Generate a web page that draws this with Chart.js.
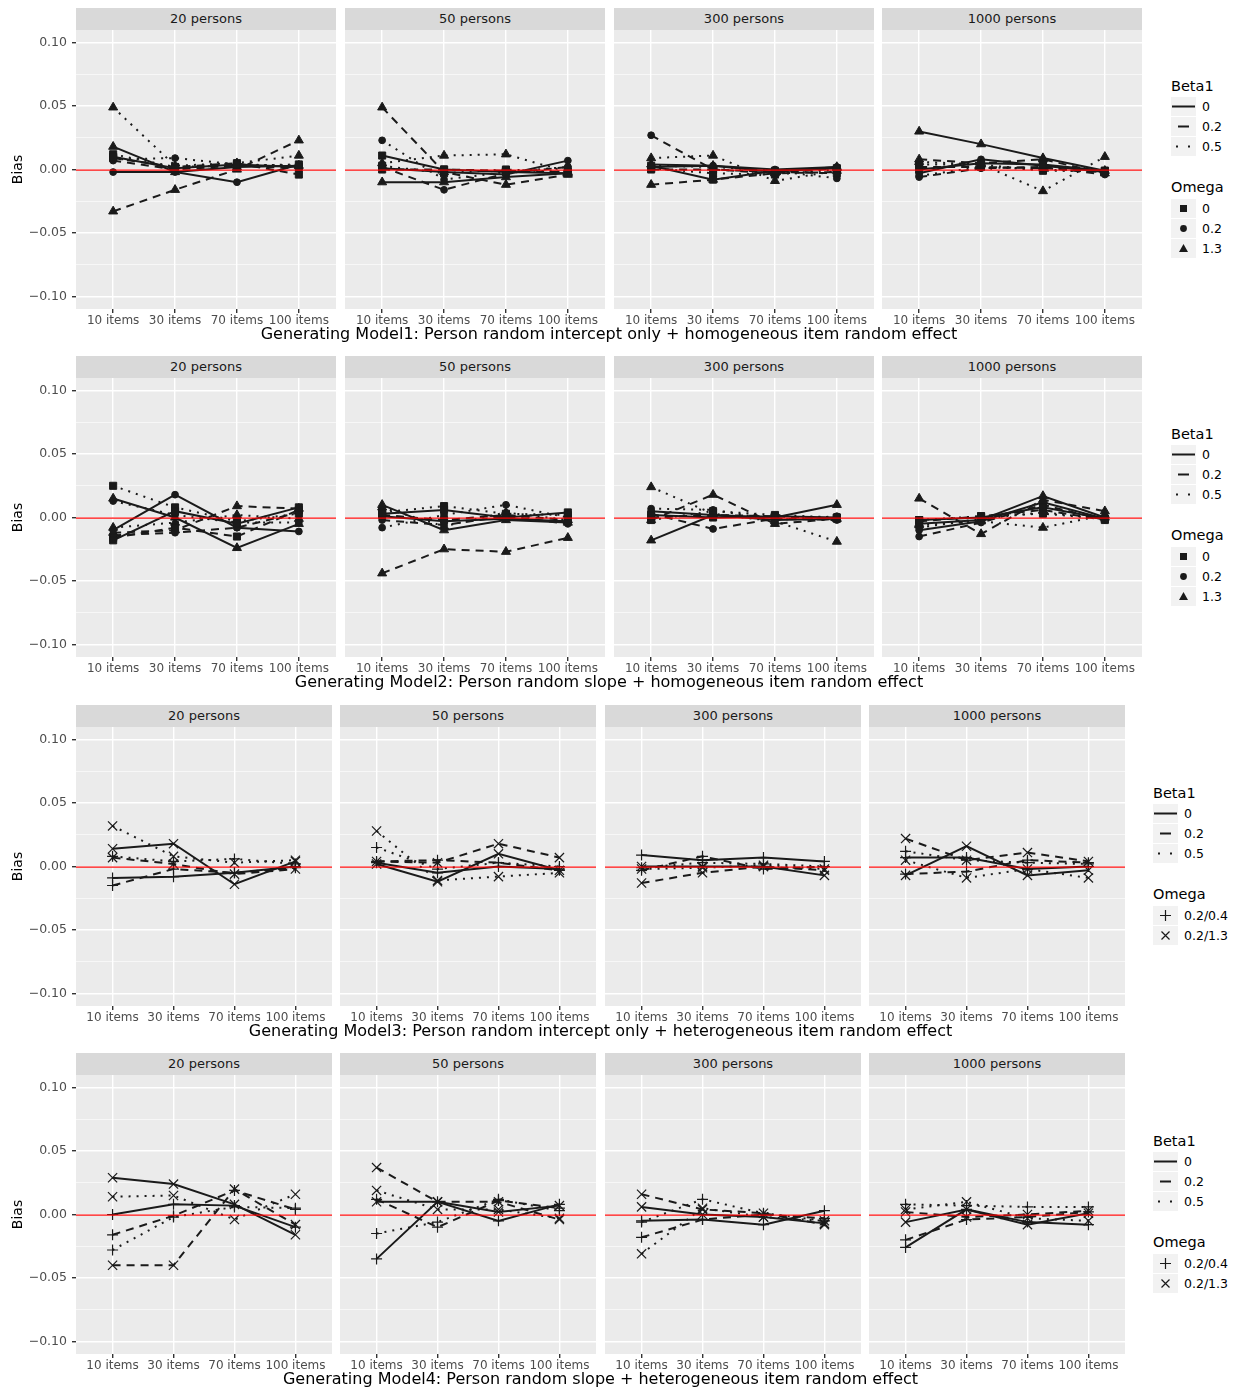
<!DOCTYPE html>
<html>
<head>
<meta charset="utf-8">
<script src="https://cdn.jsdelivr.net/npm/chart.js@4.4.0/dist/chart.umd.min.js"></script>
<style>
  body { margin: 0; background: #fff; width: 1248px; height: 1391px; position: relative; overflow: hidden;
         font-family: "DejaVu Sans", sans-serif; }
  .strip { position: absolute; background: #d9d9d9; color: #1a1a1a; font-size: 13px; text-align: center;
           height: 22px; line-height: 22px; }
  canvas { position: absolute; }
  .title { position: absolute; font-size: 16px; color: #000; transform: translateX(-50%); white-space: nowrap;
           line-height: 18px; }
  .lgTitle { position: absolute; font-size: 14.5px; color: #000; line-height: 18px; }
  .lgLabel { position: absolute; font-size: 12.5px; color: #000; line-height: 19px; }
  .lgKey { position: absolute; }
</style>
</head>
<body>
<script>
// categories / labels
const items = ['10 items', '30 items', '70 items', '100 items'];
const persons = ['20 persons', '50 persons', '300 persons', '1000 persons'];
const beta1 = ['0', '0.2', '0.5'];
const omegaA = ['0', '0.2', '1.3'];
const omegaB = ['0.2/0.4', '0.2/1.3'];
const yMajor = [-0.1, -0.05, 0, 0.05, 0.1];
const yMajorLabels = ['\u22120.10', '\u22120.05', '0.00', '0.05', '0.10'];
const yMinor = [-0.075, -0.025, 0.025, 0.075];
const refValue = 0;
const modelTitles = [
  'Generating Model1: Person random intercept only + homogeneous item random effect',
  'Generating Model2: Person random slope + homogeneous item random effect',
  'Generating Model3: Person random intercept only + heterogeneous item random effect',
  'Generating Model4: Person random slope + heterogeneous item random effect'
];

// bias values, rows ordered Beta1 (0, 0.2, 0.5) x Omega
// models 1-2: Omega 0 / 0.2 / 1.3
const m1p20 = [
  [0.010, 0.001, 0.004, 0.002], [-0.002, -0.002, -0.010, 0.004], [0.018, -0.002, 0.002, 0.003],
  [0.009, 0.002, 0.005, -0.004], [0.007, 0.000, 0.003, 0.001], [-0.033, -0.016, 0.000, 0.023],
  [0.012, 0.002, 0.003, 0.004], [0.008, 0.009, 0.004, 0.003], [0.049, 0.003, 0.005, 0.011]
];
const m1p50 = [
  [0.011, 0.000, -0.002, -0.003], [0.001, -0.002, -0.004, 0.007], [-0.010, -0.010, -0.006, -0.003],
  [0.000, 0.000, -0.001, -0.002], [0.002, -0.016, -0.003, 0.002], [0.049, -0.002, -0.012, -0.004],
  [0.003, -0.003, 0.000, -0.002], [0.023, -0.008, -0.002, 0.002], [0.005, 0.011, 0.012, -0.002]
];
const m1p300 = [
  [0.003, -0.008, -0.001, 0.001], [0.002, 0.003, 0.000, 0.002], [0.004, 0.003, -0.002, 0.002],
  [0.000, 0.000, -0.002, -0.003], [0.027, 0.000, -0.003, -0.002], [-0.012, -0.008, -0.003, 0.001],
  [0.001, -0.003, -0.004, 0.000], [0.003, 0.002, -0.001, -0.007], [0.009, 0.011, -0.009, -0.001]
];
const m1p1000 = [
  [0.000, 0.005, 0.004, -0.001], [-0.003, 0.008, 0.003, -0.002], [0.030, 0.020, 0.009, -0.001],
  [0.002, 0.002, 0.001, -0.002], [-0.006, 0.001, 0.002, -0.004], [0.008, 0.005, 0.008, -0.003],
  [0.004, 0.004, -0.001, -0.001], [-0.005, 0.002, 0.000, -0.002], [0.006, 0.004, -0.017, 0.010]
];
const m2p20 = [
  [-0.018, 0.005, -0.005, 0.008], [-0.010, 0.018, -0.008, -0.011], [0.015, 0.000, -0.024, -0.005],
  [-0.016, -0.008, -0.015, 0.006], [-0.014, -0.012, -0.008, 0.004], [-0.012, -0.010, 0.009, 0.007],
  [0.025, 0.008, -0.003, 0.003], [0.013, 0.002, -0.004, -0.004], [-0.008, -0.004, 0.002, -0.001]
];
const m2p50 = [
  [0.003, 0.006, 0.000, 0.004], [0.001, -0.003, -0.001, -0.003], [0.010, -0.010, -0.002, -0.004],
  [0.002, -0.002, 0.002, -0.002], [-0.002, -0.006, 0.001, -0.005], [-0.044, -0.025, -0.027, -0.016],
  [0.004, 0.009, 0.003, 0.002], [-0.008, 0.002, 0.010, 0.000], [0.008, -0.007, 0.004, -0.002]
];
const m2p300 = [
  [0.002, 0.000, 0.001, 0.000], [0.005, 0.002, -0.002, -0.001], [-0.018, 0.002, 0.000, 0.010],
  [0.000, 0.002, 0.001, -0.001], [0.003, -0.009, -0.001, -0.002], [-0.002, 0.018, -0.005, -0.001],
  [-0.002, 0.005, 0.002, 0.000], [0.007, 0.006, -0.002, 0.001], [0.024, 0.003, -0.003, -0.019]
];
const m2p1000 = [
  [-0.002, 0.000, 0.008, -0.001], [-0.010, -0.003, 0.012, -0.001], [-0.005, -0.002, 0.017, 0.000],
  [-0.003, 0.001, 0.006, -0.002], [-0.015, -0.004, 0.010, -0.002], [0.015, -0.013, 0.014, 0.005],
  [-0.002, 0.001, 0.003, -0.001], [-0.008, -0.001, 0.004, -0.001], [-0.006, -0.003, -0.008, 0.002]
];
// models 3-4: Omega 0.2/0.4 / 0.2/1.3
const m3p20 = [
  [-0.009, -0.008, -0.005, 0.000], [0.014, 0.018, -0.014, 0.004],
  [-0.015, -0.002, -0.005, -0.001], [0.007, 0.002, -0.006, -0.002],
  [0.008, 0.004, 0.006, 0.002], [0.032, 0.008, 0.003, 0.005]
];
const m3p50 = [
  [0.003, -0.005, 0.000, -0.002], [0.002, -0.012, 0.010, -0.003],
  [0.004, 0.005, 0.003, -0.003], [0.004, 0.003, 0.018, 0.007],
  [0.015, -0.002, 0.003, 0.000], [0.028, -0.011, -0.008, -0.005]
];
const m3p300 = [
  [0.009, 0.005, 0.007, 0.004], [0.000, 0.000, 0.000, -0.007],
  [-0.003, 0.008, -0.002, 0.000], [-0.013, -0.005, 0.000, -0.003],
  [-0.001, 0.003, 0.002, 0.000], [-0.002, -0.001, 0.001, -0.002]
];
const m3p1000 = [
  [0.007, 0.007, -0.002, 0.000], [-0.007, 0.016, -0.007, -0.003],
  [-0.006, -0.004, 0.005, 0.003], [0.022, 0.005, 0.011, 0.004],
  [0.012, 0.005, 0.003, 0.002], [0.005, -0.009, -0.002, -0.009]
];
const m4p20 = [
  [0.000, 0.008, 0.007, -0.010], [0.029, 0.024, 0.008, -0.016],
  [-0.016, -0.001, 0.019, 0.004], [-0.040, -0.040, 0.020, -0.008],
  [-0.028, -0.002, 0.006, 0.005], [0.014, 0.015, -0.004, 0.016]
];
const m4p50 = [
  [-0.035, 0.010, -0.005, 0.008], [0.010, 0.010, 0.002, 0.007],
  [0.012, -0.010, 0.011, 0.005], [0.037, 0.010, 0.010, -0.004],
  [-0.015, -0.006, 0.012, 0.003], [0.019, 0.004, 0.004, -0.003]
];
const m4p300 = [
  [-0.005, -0.004, -0.008, 0.003], [0.006, 0.000, -0.002, -0.007],
  [-0.018, -0.004, 0.000, -0.003], [0.016, 0.004, 0.001, -0.008],
  [-0.006, 0.012, 0.001, -0.005], [-0.031, 0.005, -0.002, -0.005]
];
const m4p1000 = [
  [-0.026, 0.004, -0.006, -0.008], [-0.006, 0.004, -0.008, 0.001],
  [-0.020, -0.004, -0.002, 0.002], [0.002, -0.002, 0.000, 0.003],
  [0.008, 0.007, 0.006, 0.006], [0.004, 0.010, -0.003, -0.005]
];

const models = [
  [m1p20, m1p50, m1p300, m1p1000],
  [m2p20, m2p50, m2p300, m2p1000],
  [m3p20, m3p50, m3p300, m3p1000],
  [m4p20, m4p50, m4p300, m4p1000]
];

// layout
const ink = '#1a1a1a';
const font = '"DejaVu Sans", sans-serif';
const rowTops = [30, 378, 727, 1075];
const plotH = 279;
const xAxisH = 20;
const colLefts = [[76, 345, 614, 882], [76, 345, 614, 882], [76, 340, 605, 869], [76, 340, 605, 869]];
const colWidths = [260, 260, 256, 256];
const legendX = [1171, 1171, 1153, 1153];
const legendDy = [56, 56, 66, 66];

const dashes = [[], [8, 6], [2, 6]];
const shapesA = [
  { style: 'rect', r: 5, bw: 1 },
  { style: 'circle', r: 3.4, bw: 1 },
  { style: 'triangle', r: 5.2, bw: 1 }
];
const shapesB = [
  { style: 'cross', r: 5.5, bw: 1.2 },
  { style: 'crossRot', r: 6.5, bw: 1.2 }
];

const panelBg = {
  id: 'panelBg',
  beforeDraw(chart) {
    const { ctx, chartArea: a } = chart;
    ctx.save();
    ctx.fillStyle = '#ebebeb';
    ctx.fillRect(a.left, a.top, a.width, a.height);
    ctx.restore();
  }
};

// red reference line at Bias = 0, placed with the y scale
const zeroLine = {
  id: 'zeroLine',
  afterDraw(chart) {
    const { ctx, chartArea: a, scales } = chart;
    const y = Math.round(scales.y.getPixelForValue(refValue));
    ctx.save();
    ctx.globalAlpha = 1;
    ctx.globalCompositeOperation = 'source-over';
    ctx.setLineDash([]);
    ctx.fillStyle = 'rgb(255,0,0)';
    ctx.fillRect(a.left, y - 0.5, a.width, 1.2);
    ctx.restore();
  }
};

const isMajor = v => yMajor.some(m => Math.abs(m - v) < 1e-9);

function makePanel(row, col) {
  const rows = models[row][col];
  const shapes = row < 2 ? shapesA : shapesB;
  const first = col === 0;
  const left = first ? 0 : colLefts[row][col];
  const width = first ? colLefts[row][0] + colWidths[row] : colWidths[row];

  const strip = document.createElement('div');
  strip.className = 'strip';
  strip.style.left = colLefts[row][col] + 'px';
  strip.style.top = (rowTops[row] - 22) + 'px';
  strip.style.width = colWidths[row] + 'px';
  strip.textContent = persons[col];
  document.body.appendChild(strip);

  const canvas = document.createElement('canvas');
  canvas.width = width;
  canvas.height = plotH + xAxisH;
  canvas.style.left = left + 'px';
  canvas.style.top = rowTops[row] + 'px';
  document.body.appendChild(canvas);

  const datasets = rows.map((vals, i) => {
    const b = Math.floor(i / shapes.length);
    const s = shapes[i % shapes.length];
    return {
      data: vals.map((v, j) => ({ x: j + 1, y: v })),
      borderColor: ink,
      backgroundColor: ink,
      borderWidth: 2,
      borderDash: dashes[b],
      pointStyle: s.style,
      pointRadius: s.r,
      pointBorderWidth: s.bw,
      pointBackgroundColor: ink,
      pointBorderColor: ink,
      tension: 0
    };
  });

  new Chart(canvas.getContext('2d'), {
    type: 'line',
    data: { datasets },
    plugins: [panelBg, zeroLine],
    options: {
      responsive: false,
      animation: false,
      events: [],
      layout: { padding: 0, autoPadding: false },
      plugins: { legend: { display: false }, tooltip: { enabled: false } },
      scales: {
        x: {
          type: 'linear',
          min: 0.4,
          max: 4.6,
          afterBuildTicks: s => { s.ticks = items.map((_, i) => ({ value: i + 1 })); },
          afterFit: s => { s.height = xAxisH; s.paddingLeft = 0; s.paddingRight = 0; },
          border: { display: false },
          grid: { color: '#ffffff', lineWidth: 1.4, tickColor: '#333333', tickLength: 4 },
          ticks: {
            callback: v => items[v - 1],
            color: '#4d4d4d',
            font: { family: font, size: 12 },
            padding: 1,
            maxRotation: 0,
            autoSkip: false
          }
        },
        y: {
          min: -0.11,
          max: 0.11,
          afterBuildTicks: s => {
            s.ticks = yMajor.concat(yMinor).sort((a, b) => a - b).map(v => ({ value: v }));
          },
          afterFit: s => { s.width = first ? colLefts[row][0] : 0; s.paddingTop = 0; s.paddingBottom = 0; },
          border: { display: false },
          grid: {
            color: '#ffffff',
            lineWidth: c => (c.tick && isMajor(c.tick.value)) ? 1.4 : 0.6,
            tickColor: c => (c.tick && isMajor(c.tick.value)) ? '#333333' : 'rgba(0,0,0,0)',
            tickLength: 4,
            drawTicks: first
          },
          ticks: {
            display: first,
            autoSkip: false,
            callback: v => {
              const k = yMajor.findIndex(m => Math.abs(m - v) < 1e-9);
              return k >= 0 ? yMajorLabels[k] : '';
            },
            color: '#4d4d4d',
            font: { family: font, size: 12.5 },
            padding: 5
          },
          title: {
            display: first,
            text: 'Bias',
            color: '#000',
            font: { family: font, size: 14 },
            padding: { top: 10, bottom: 0 }
          }
        }
      }
    }
  });
}

function keySvg(kind, idx, group) {
  let inner = '<rect width="25" height="19" fill="#f2f2f2"/>';
  if (kind === 'line') {
    if (idx === 0) inner += '<line x1="1" y1="9.5" x2="24" y2="9.5" stroke="' + ink + '" stroke-width="2"/>';
    if (idx === 1) inner += '<line x1="7" y1="9.5" x2="18" y2="9.5" stroke="' + ink + '" stroke-width="2"/>';
    if (idx === 2) inner += '<line x1="5" y1="9.5" x2="21" y2="9.5" stroke="' + ink + '" stroke-width="2" stroke-dasharray="2 10"/>';
  } else if (group === 'A') {
    if (idx === 0) inner += '<rect x="9" y="6" width="7" height="7" fill="' + ink + '"/>';
    if (idx === 1) inner += '<circle cx="12.5" cy="9.5" r="3.4" fill="' + ink + '"/>';
    if (idx === 2) inner += '<polygon points="12.5,5 17,13 8,13" fill="' + ink + '"/>';
  } else {
    if (idx === 0) inner += '<path d="M7 9.5H18M12.5 4V15" stroke="' + ink + '" stroke-width="1.2"/>';
    if (idx === 1) inner += '<path d="M8.5 5.5L16.5 13.5M16.5 5.5L8.5 13.5" stroke="' + ink + '" stroke-width="1.2"/>';
  }
  return '<svg width="25" height="19" xmlns="http://www.w3.org/2000/svg">' + inner + '</svg>';
}

function addText(cls, text, x, y) {
  const d = document.createElement('div');
  d.className = cls;
  d.textContent = text;
  d.style.left = x + 'px';
  d.style.top = y + 'px';
  document.body.appendChild(d);
}

function makeLegend(row) {
  const x = legendX[row];
  const top = rowTops[row] + legendDy[row];
  const omegas = row < 2 ? omegaA : omegaB;
  const group = row < 2 ? 'A' : 'B';
  addText('lgTitle', 'Beta1', x, top - 9);
  beta1.forEach((b, i) => {
    const cy = top + 20 + i * 20;
    const k = document.createElement('div');
    k.className = 'lgKey';
    k.style.left = x + 'px';
    k.style.top = (cy - 9.5) + 'px';
    k.innerHTML = keySvg('line', i, group);
    document.body.appendChild(k);
    addText('lgLabel', b, x + 31, cy - 9.5);
  });
  const oTop = top + 101;
  addText('lgTitle', 'Omega', x, oTop - 9);
  omegas.forEach((o, i) => {
    const cy = oTop + 21 + i * 20;
    const k = document.createElement('div');
    k.className = 'lgKey';
    k.style.left = x + 'px';
    k.style.top = (cy - 9.5) + 'px';
    k.innerHTML = keySvg('shape', i, group);
    document.body.appendChild(k);
    addText('lgLabel', o, x + 31, cy - 9.5);
  });
}

for (let r = 0; r < 4; r++) {
  for (let c = 0; c < 4; c++) makePanel(r, c);
  const l = colLefts[r][0], rgt = colLefts[r][3] + colWidths[r];
  const t = document.createElement('div');
  t.className = 'title';
  t.textContent = modelTitles[r];
  t.style.left = ((l + rgt) / 2) + 'px';
  t.style.top = (rowTops[r] + plotH + 25 - 9) + 'px';
  document.body.appendChild(t);
  makeLegend(r);
}
</script>
</body>
</html>
